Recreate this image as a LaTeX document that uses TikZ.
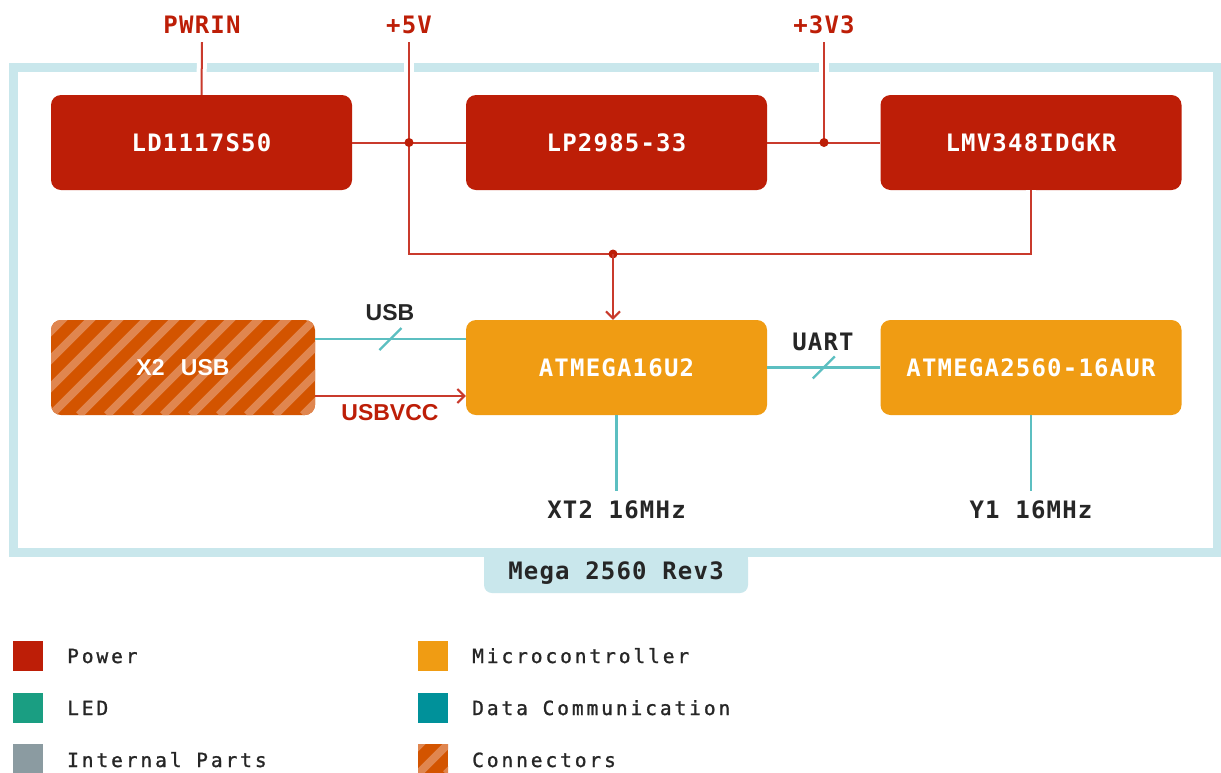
\documentclass[tikz,border=0pt]{standalone}
\usepackage{fontspec}
\setmonofont{DejaVu Sans Mono}
\newfontfamily\boxfont{DejaVu Sans Mono}[LetterSpace=5]
\newfontfamily\legfont{DejaVu Sans Mono}[LetterSpace=15,FakeBold=1.2]
\newfontfamily\usbfont{Liberation Sans}
\usetikzlibrary{arrows.meta}
\definecolor{pwrc}{HTML}{BD1E07}
\definecolor{pwrl}{HTML}{C93A2C}
\definecolor{mcuc}{HTML}{F09C13}
\definecolor{conc}{HTML}{D35400}
\definecolor{conlt}{HTML}{E0864F}
\definecolor{datl}{HTML}{5CBFC1}
\definecolor{ledc}{HTML}{1A9E82}
\definecolor{dcomc}{HTML}{00919A}
\definecolor{intc}{HTML}{8B9BA1}
\definecolor{framec}{HTML}{C9E7EC}
\definecolor{txtc}{HTML}{262626}
\begin{document}
\begin{tikzpicture}[x=1pt,y=-1pt,
	blk/.style={rectangle,rounded corners=10pt,minimum width=301pt,minimum height=95pt,inner sep=0pt,text=white,font=\boxfont\fontsize{24}{28}\selectfont\bfseries},
	pblk/.style={blk,fill=pwrc},
	mblk/.style={blk,fill=mcuc},
	hatch/.style={fill=conc,path picture={
		\foreach \k in {-6,...,12}
			\draw[conlt,line width=8pt] ([xshift=\k*28pt]path picture bounding box.south west) -- ++(150pt,150pt);}},
	rail/.style={text height=18pt,text depth=0pt,inner xsep=0pt,inner ysep=9pt,text=pwrc,font=\boxfont\fontsize{24}{28}\selectfont\bfseries},
	xtal/.style={rail,text=txtc},
	busname/.style={inner sep=0pt,text=txtc,font=\boxfont\fontsize{24}{28}\selectfont\bfseries},
	usbname/.style={inner sep=0pt,font=\usbfont\fontsize{23}{26}\selectfont\bfseries},
	pline/.style={pwrl,line width=2pt},
	halo/.style={preaction={draw=white,line width=10pt}},
	dline/.style={datl,line width=2.2pt},
	legsq/.style={rectangle,minimum size=30pt,inner sep=0pt},
	legtxt/.style={anchor=base west,inner sep=0pt,text=txtc,font=\legfont\fontsize{19.5}{22}\selectfont}]
	\useasboundingbox (0,0) rectangle (1221,772);
	\fill[white] (0,0) rectangle (1221,772);
	\draw[framec,line width=9pt] (13,67) rectangle (1217,552);
	\fill[framec,rounded corners=8pt] (484,552) rectangle (748,593);
	\fill[framec] (484,552) rectangle (748,572);
	\node[busname] (rev) at (616,573) {Mega 2560 Rev3};
	\node[pblk] (ld) at (201.5,142.5) {LD1117S50};
	\node[pblk] (lp) at (616.5,142.5) {LP2985-33};
	\node[pblk] (lmv) at (1031,142.5) {LMV348IDGKR};
	\node[blk,hatch,minimum width=264pt,font=\usbfont\fontsize{23}{26}\selectfont\bfseries] (usbc) at (183,367.5) {X2\hspace{10pt} USB};
	\node[mblk] (m16) at (616.5,367.5) {ATMEGA16U2};
	\node[mblk] (m2560) at (1031,367.5) {ATMEGA2560-16AUR};
	\node[rail] (pwrin) at (202,24) {PWRIN};
	\node[rail] (v5) at (409,24) {+5V};
	\node[rail] (v33) at (824,24) {+3V3};
	\node[xtal] (xt2) at (616.5,509) {XT2 16MHz};
	\node[xtal] (y1) at (1031,509) {Y1 16MHz};
	\coordinate (j5) at (409,142.5);
	\coordinate (j33) at (824,142.5);
	\coordinate (jbus) at (613,254);
	\draw[pline,halo] (pwrin.south) -- (ld.north);
	\draw[pline,halo] (v5.south) |- (jbus) -| (lmv.south);
	\draw[pline,halo] (v33.south) -- (j33);
	\draw[pline] (ld.east) -- (lp.west);
	\draw[pline] (lp.east) -- (lmv.west);
	\fill[pwrc] (j5) circle[radius=4.5pt];
	\fill[pwrc] (j33) circle[radius=4.5pt];
	\fill[pwrc] (jbus) circle[radius=4.5pt];
	\draw[pline,-{Straight Barb[length=7pt,width=14pt]}] (jbus) -- (jbus |- m16.north);
	\draw[dline] ([yshift=28.5pt]usbc.east) -- coordinate[pos=.5] (su) ([yshift=28.5pt]m16.west);
	\draw[dline] (su) ++(-11,11) -- ++(22,-22);
	\node[usbname,text=txtc] (usbl) at (390,313) {USB};
	\draw[pline,-{Straight Barb[length=7pt,width=14pt]}] ([yshift=-28.5pt]usbc.east) -- ([yshift=-28.5pt]m16.west);
	\node[usbname,text=pwrc] (usbvcc) at (390,413) {USBVCC};
	\draw[dline] (m16.east) -- coordinate[pos=.5] (su2) (m2560.west);
	\draw[dline] (su2) ++(-11,11) -- ++(22,-22);
	\node[busname] (uart) at (823,342) {UART};
	\draw[dline] (m16.south) -- (xt2.north);
	\draw[dline] (m2560.south) -- (y1.north);
	\node[legsq,fill=pwrc] (lg1) at (28,656) {};
	\node[legsq,fill=ledc] (lg2) at (28,708) {};
	\node[legsq,fill=intc] (lg3) at (28,759) {};
	\node[legsq,fill=mcuc] (lg4) at (433,656) {};
	\node[legsq,fill=dcomc] (lg5) at (433,708) {};
	\node[legsq,hatch] (lg6) at (433,759) {};
	\node[legtxt] (lt1) at (67,663) {Power};
	\node[legtxt] (lt2) at (67,715) {LED};
	\node[legtxt] (lt3) at (67,767) {Internal Parts};
	\node[legtxt] (lt4) at (472,663) {Microcontroller};
	\node[legtxt] (lt5) at (472,715) {Data Communication};
	\node[legtxt] (lt6) at (472,767) {Connectors};
\end{tikzpicture}
\end{document}
